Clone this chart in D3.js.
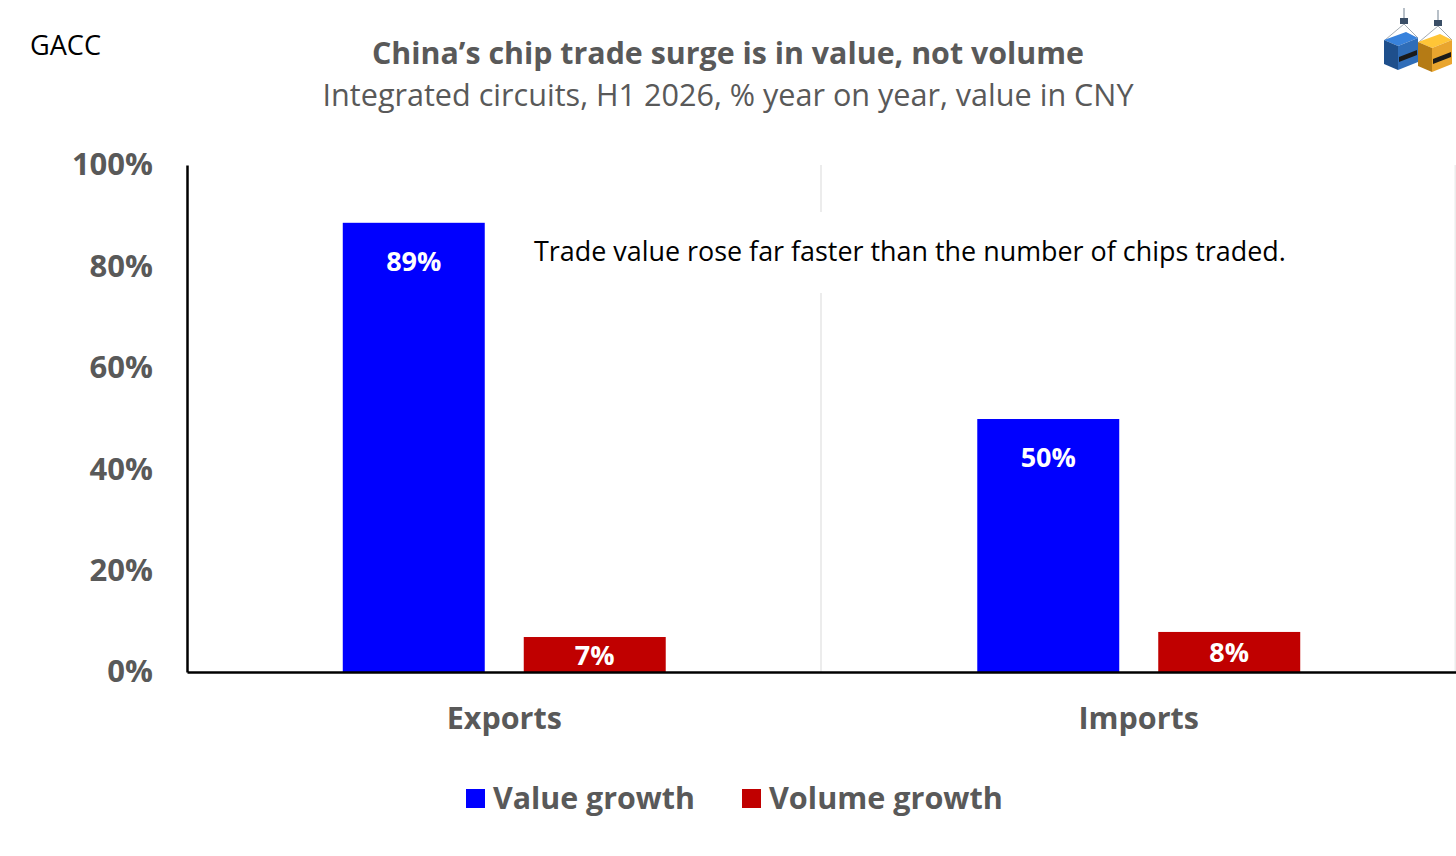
<!DOCTYPE html>
<html>
<head>
<meta charset="utf-8">
<script src="https://cdn.jsdelivr.net/npm/d3@7"></script>
<style>
  body { margin: 0; background: #fff; }
  svg { display: block; }
  text { font-family: "Open Sans", "Noto Sans", sans-serif; }
</style>
</head>
<body>
<div id="chart"></div>
<script>
// data
var categories = ["Exports", "Imports"];
var series = ["Value growth", "Volume growth"];
var valueGrowth = [88.6, 49.9];
var volumeGrowth = [6.9, 7.9];
var valueLabels = ["89%", "50%"];
var volumeLabels = ["7%", "8%"];
var yTicks = [0, 20, 40, 60, 80, 100];
var seriesColors = ["#0000FF", "#C00000"];

var W = 1456, H = 856;
var gray = "#595959";

var svg = d3.select("#chart").append("svg")
  .attr("width", W)
  .attr("height", H);

// scale a text's font so it fills a given width
function fit(sel, width) {
  var len = sel.node().getComputedTextLength();
  var fs = parseFloat(sel.attr("font-size"));
  sel.attr("font-size", (fs * width / len).toFixed(2));
  return sel;
}

var x = d3.scaleBand().domain(categories).range([187, 1456]);
var bw = x.bandwidth();
var xs = d3.scaleBand().domain(series)
  .range([bw * 0.2455, bw * 0.7545])
  .paddingInner(0.2155);
var y = d3.scaleLinear().domain([0, 100]).range([672, 165]);

// vertical gridlines at category boundaries
var bounds = categories.map(function(c) { return x(c) + bw; });
svg.selectAll(".vgrid").data(bounds).enter().append("line")
  .attr("class", "vgrid")
  .attr("x1", function(d) { return d - 0.5; })
  .attr("x2", function(d) { return d - 0.5; })
  .attr("y1", y(100))
  .attr("y2", y(0))
  .attr("stroke", "#ECECEC")
  .attr("stroke-width", 2);

// bars
var rows = [];
categories.forEach(function(c, i) {
  rows.push({cat: c, s: series[0], v: valueGrowth[i], lab: valueLabels[i], col: seriesColors[0]});
  rows.push({cat: c, s: series[1], v: volumeGrowth[i], lab: volumeLabels[i], col: seriesColors[1]});
});

svg.selectAll(".bar").data(rows).enter().append("rect")
  .attr("class", "bar")
  .attr("x", function(d) { return x(d.cat) + xs(d.s); })
  .attr("width", xs.bandwidth())
  .attr("y", function(d) { return y(d.v); })
  .attr("height", function(d) { return y(0) - y(d.v); })
  .attr("fill", function(d) { return d.col; });

// inside end labels, centred in the bar when it is too short
svg.selectAll(".blab").data(rows).enter().append("text")
  .attr("class", "blab")
  .attr("x", function(d) { return x(d.cat) + xs(d.s) + xs.bandwidth() / 2; })
  .attr("y", function(d) {
    var top = y(d.v);
    return Math.min(top + 39, (top + y(0)) / 2 + 1);
  })
  .attr("dy", "0.35em")
  .attr("text-anchor", "middle")
  .attr("font-size", 27)
  .attr("font-weight", "bold")
  .attr("fill", "#fff")
  .text(function(d) { return d.lab; });

// annotation box (hides the gridline behind it)
svg.append("rect")
  .attr("x", 520).attr("y", 212)
  .attr("width", 780).attr("height", 81)
  .attr("fill", "#fff");
fit(svg.append("text")
  .attr("x", 534).attr("y", 252)
  .attr("dy", "0.35em")
  .attr("font-size", 26)
  .attr("fill", "#000")
  .text("Trade value rose far faster than the number of chips traded."), 752);

// axes
var yAxis = svg.append("g")
  .attr("transform", "translate(187,0)")
  .call(d3.axisLeft(y).tickValues(yTicks).tickSize(0).tickPadding(34)
    .tickFormat(function(d) { return d + "%"; }));
yAxis.select(".domain").attr("stroke", "#000").attr("stroke-width", 2.5);
yAxis.selectAll("text")
  .attr("font-size", 31)
  .attr("font-weight", "bold")
  .attr("fill", gray)
  .style("font-family", "'Open Sans', sans-serif");

var xAxis = svg.append("g")
  .attr("transform", "translate(0," + y(0) + ")")
  .call(d3.axisBottom(x).tickSize(0).tickPadding(35));
xAxis.select(".domain").attr("stroke", "#000").attr("stroke-width", 2.5);
xAxis.selectAll("text")
  .attr("font-size", 30.5)
  .attr("font-weight", "bold")
  .attr("fill", gray)
  .style("font-family", "'Open Sans', sans-serif");

// titles
fit(svg.append("text")
  .attr("x", 728).attr("y", 64)
  .attr("text-anchor", "middle")
  .attr("font-size", 28)
  .attr("font-weight", "bold")
  .attr("fill", gray)
  .text("China\u2019s chip trade surge is in value, not volume"), 712);
fit(svg.append("text")
  .attr("x", 728).attr("y", 106)
  .attr("text-anchor", "middle")
  .attr("font-size", 28)
  .attr("fill", gray)
  .text("Integrated circuits, H1 2026, % year on year, value in CNY"), 811);
fit(svg.append("text")
  .attr("x", 30).attr("y", 55)
  .attr("font-size", 24)
  .attr("fill", "#000")
  .text("GACC"), 71);

// legend
var legX = [466, 742];
var leg = svg.selectAll(".leg").data(series).enter().append("g")
  .attr("class", "leg")
  .attr("transform", function(d, i) { return "translate(" + legX[i] + ",798)"; });
leg.append("rect")
  .attr("x", 0).attr("y", -9)
  .attr("width", 19).attr("height", 19)
  .attr("fill", function(d, i) { return seriesColors[i]; });
leg.append("text")
  .attr("x", 27)
  .attr("dy", "0.35em")
  .attr("font-size", 30)
  .attr("font-weight", "bold")
  .attr("fill", gray)
  .text(function(d) { return d; });
leg.selectAll("text").each(function(d, i) {
  fit(d3.select(this), [202, 234][series.indexOf(d)]);
});

// little container logo, top right
var logo = svg.append("g").attr("transform", "translate(1382,6)");
[{dx: 0, dy: 6, c: "#2F6DB8", s: "#1E4F8C"}, {dx: 34, dy: 8, c: "#E9A52E", s: "#B57B15"}].forEach(function(b) {
  var g = logo.append("g").attr("transform", "translate(" + b.dx + "," + b.dy + ")");
  g.append("line").attr("x1", 22).attr("y1", -4).attr("x2", 22).attr("y2", 12)
    .attr("stroke", "#B8C0C8").attr("stroke-width", 2);
  g.append("rect").attr("x", 18).attr("y", 6).attr("width", 8).attr("height", 6).attr("fill", "#3A4E66");
  g.append("line").attr("x1", 22).attr("y1", 12).attr("x2", 3).attr("y2", 28)
    .attr("stroke", "#8A949E").attr("stroke-width", 0.8);
  g.append("line").attr("x1", 22).attr("y1", 12).attr("x2", 36).attr("y2", 26)
    .attr("stroke", "#8A949E").attr("stroke-width", 0.8);
  g.append("polygon").attr("points", "2,28 24,20 36,26 16,34").attr("fill", d3.color(b.c).brighter(0.5));
  g.append("polygon").attr("points", "2,28 16,34 16,58 2,52").attr("fill", b.s);
  g.append("polygon").attr("points", "16,34 36,26 36,50 16,58").attr("fill", b.c);
  g.append("polygon").attr("points", "17,45 35,38 35,43 17,50").attr("fill", "#1A1A1A");
});
</script>
</body>
</html>
